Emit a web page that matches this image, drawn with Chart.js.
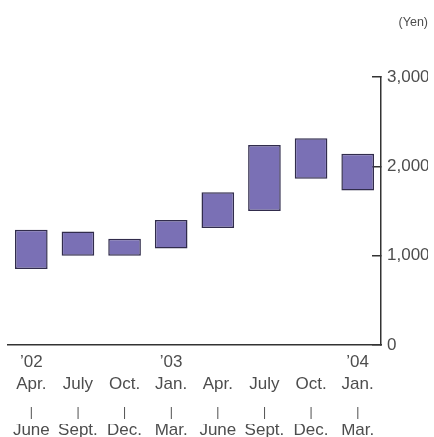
<!DOCTYPE html>
<html>
<head>
<meta charset="utf-8">
<script src="https://cdn.jsdelivr.net/npm/chart.js@4.4.1/dist/chart.umd.min.js"></script>
<style>
  html, body { margin: 0; padding: 0; background: #ffffff; }
  #wrap { width: 434px; height: 437px; position: relative; }
  #info { position: absolute; left: 0; top: 100px; font: 11px monospace; color: transparent; white-space: pre; }
</style>
</head>
<body>
<div id="wrap"><canvas id="c" width="434" height="437"></canvas><div id="info"></div></div>
<script>
const years = ['\u201902', '', '', '\u201903', '', '', '', '\u201904'];
const quarterStarts = ['Apr.', 'July', 'Oct.', 'Jan.', 'Apr.', 'July', 'Oct.', 'Jan.'];
const quarterEnds = ['June', 'Sept.', 'Dec.', 'Mar.', 'June', 'Sept.', 'Dec.', 'Mar.'];
const lows  = [850, 1000, 1000, 1080, 1310, 1500, 1860, 1730];
const highs = [1290, 1270, 1190, 1400, 1710, 2240, 2315, 2140];
const textColor = '#4d4d4d';
const lineColor = '#333333';
const fontFamily = '"Liberation Sans", Arial, sans-serif';
const topLabels = years.map((y, i) => [y, quarterStarts[i]]);
const dashLabels = quarterEnds.map(() => '|');
const fixedHeight = h => scale => { scale.height = h; };
const ch = new Chart(document.getElementById('c'), {
  type: 'bar',
  data: { labels: topLabels, datasets: [{ data: lows.map((lo, i) => [lo, highs[i]]), backgroundColor: '#7a70b5', borderColor: '#312c4c', borderWidth: 1.5, borderSkipped: false, barPercentage: 0.7, categoryPercentage: 1.0 }] },
  options: {
    responsive: false, animation: false, events: [],
    layout: { padding: { left: 8, right: 6, top: 0, bottom: 0 } },
    plugins: { legend: { display: false }, tooltip: { enabled: false },
      title: { display: true, text: '(Yen)', align: 'end', color: textColor, font: { family: fontFamily, size: 12.5, weight: 'normal' }, padding: { top: 15, bottom: 47 } } },
    scales: {
      x: { type: 'category', position: 'bottom', weight: 0, offset: true, afterFit: fixedHeight(56), grid: { display: false, drawTicks: false }, border: { display: true, color: lineColor, width: 1.5 },
        ticks: { color: textColor, font: { family: fontFamily, size: 17, lineHeight: '22px' }, padding: 6, autoSkip: false, maxRotation: 0 } },
      xDash: { type: 'category', position: 'bottom', weight: 1, offset: true, labels: dashLabels, afterFit: fixedHeight(23), grid: { display: false, drawTicks: false }, border: { display: false },
        ticks: { color: textColor, font: { family: fontFamily, size: 12, lineHeight: '11px' }, padding: 6, autoSkip: false, maxRotation: 0 } },
      xEnd: { type: 'category', position: 'bottom', weight: 2, offset: true, labels: quarterEnds, afterFit: fixedHeight(13), grid: { display: false, drawTicks: false }, border: { display: false },
        ticks: { color: textColor, font: { family: fontFamily, size: 17, lineHeight: '12px' }, padding: 0, autoSkip: false, maxRotation: 0 } },
      y: { position: 'right', min: 0, max: 3000, afterFit: scale => { scale.width = 47; },
        grid: { display: true, drawOnChartArea: false, drawTicks: true, tickLength: -9, color: lineColor, lineWidth: 1.5 },
        border: { display: true, color: lineColor, width: 1.5 },
        ticks: { stepSize: 1000, color: textColor, font: { family: fontFamily, size: 17 }, padding: 15, callback: (v) => Number(v).toLocaleString('en-US') } }
    }
  }
});
let s = 'ver ' + Chart.version + '\narea ' + JSON.stringify(ch.chartArea) + '\n';
for (const k of Object.keys(ch.scales)) { const sc = ch.scales[k]; s += k + ' t' + sc.top.toFixed(1) + ' b' + sc.bottom.toFixed(1) + ' l' + sc.left.toFixed(1) + ' r' + sc.right.toFixed(1) + '\n'; }
s += 'canvas ' + ch.width + 'x' + ch.height;
document.getElementById('info').textContent = s;
</script>
</body>
</html>
